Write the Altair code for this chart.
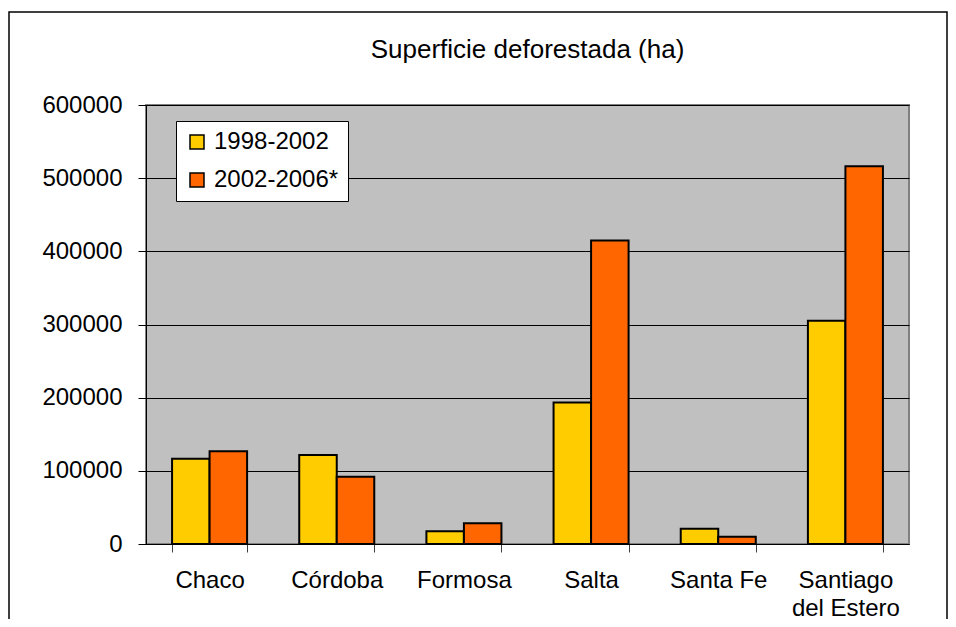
import altair as alt
import pandas as pd

provinces = ["Chaco", "Córdoba", "Formosa", "Salta", "Santa Fe", "Santiago del Estero"]
periods = ["1998-2002", "2002-2006*"]
values_1998_2002 = [116400, 121800, 17500, 193400, 20900, 305000]
values_2002_2006 = [126800, 91800, 28300, 414800, 10000, 516400]
y_ticks = [0, 100000, 200000, 300000, 400000, 500000, 600000]
colors = ["#FFCC00", "#FF6600"]

rows = []
for p, a, b in zip(provinces, values_1998_2002, values_2002_2006):
    rows.append({"provincia": p, "periodo": periods[0], "ha": a})
    rows.append({"provincia": p, "periodo": periods[1], "ha": b})
df = pd.DataFrame(rows)

FONT = "Liberation Sans"

bars = alt.Chart(df).mark_bar(stroke="black", strokeWidth=2).encode(
    x=alt.X(
        "provincia:N",
        sort=provinces,
        title=None,
        scale=alt.Scale(paddingInner=0.41, paddingOuter=0.205),
        axis=alt.Axis(
            tickBand="extent",
            labelAngle=0,
            labelExpr="datum.value == 'Santiago del Estero' ? ['Santiago', 'del Estero'] : datum.value",
            labelFontSize=24,
            labelFont=FONT,
            labelColor="black",
            labelPadding=16,
            labelLineHeight=28,
            labelOverlap=False,
            labelFlush=False,
            tickSize=8,
            tickColor="#404040",
            tickWidth=1,
            domainColor="black",
            domainWidth=1,
            grid=False,
        ),
    ),
    xOffset=alt.XOffset("periodo:N", sort=periods),
    y=alt.Y(
        "ha:Q",
        title=None,
        scale=alt.Scale(domain=[0, 600000], nice=False),
        axis=alt.Axis(
            values=y_ticks,
            format="d",
            labelFontSize=24,
            labelFont=FONT,
            labelColor="black",
            labelPadding=16,
            labelOverlap=False,
            tickSize=8,
            tickColor="black",
            tickWidth=1,
            domainColor="black",
            domainWidth=1,
            grid=True,
            gridColor="black",
            gridWidth=1,
        ),
    ),
    color=alt.Color(
        "periodo:N",
        scale=alt.Scale(domain=periods, range=colors),
        legend=alt.Legend(
            title=None,
            orient="none",
            legendX=30,
            legendY=16,
            fillColor="white",
            strokeColor="black",
            padding=9,
            labelFontSize=24,
            labelFont=FONT,
            labelColor="black",
            labelOffset=5,
            rowPadding=14,
            symbolType="square",
            symbolSize=196,
            symbolStrokeColor="black",
            symbolStrokeWidth=1.5,
            symbolOpacity=1,
        ),
    ),
)

frame = alt.Chart(pd.DataFrame({"k": [0]})).mark_rect(
    fill="transparent", stroke="black", strokeWidth=1.5
).encode(
    x=alt.value(-137), x2=alt.value(801), y=alt.value(-93), y2=alt.value(700)
)

chart = alt.layer(bars, frame).properties(
    width=763,
    height=439,
    title=alt.TitleParams(
        "Superficie deforestada (ha)",
        fontSize=26,
        fontWeight="normal",
        font=FONT,
        color="black",
        anchor="middle",
        frame="group",
        baseline="alphabetic",
        offset=-73,
    ),
    autosize=alt.AutoSizeParams(type="none"),
    padding={"left": 138, "top": 97, "right": 39, "bottom": 75},
    background="white",
).configure_view(
    fill="#C0C0C0", stroke="#808080", strokeWidth=2
)

chart.save("out.html", embed_options={"renderer": "svg", "actions": False})
